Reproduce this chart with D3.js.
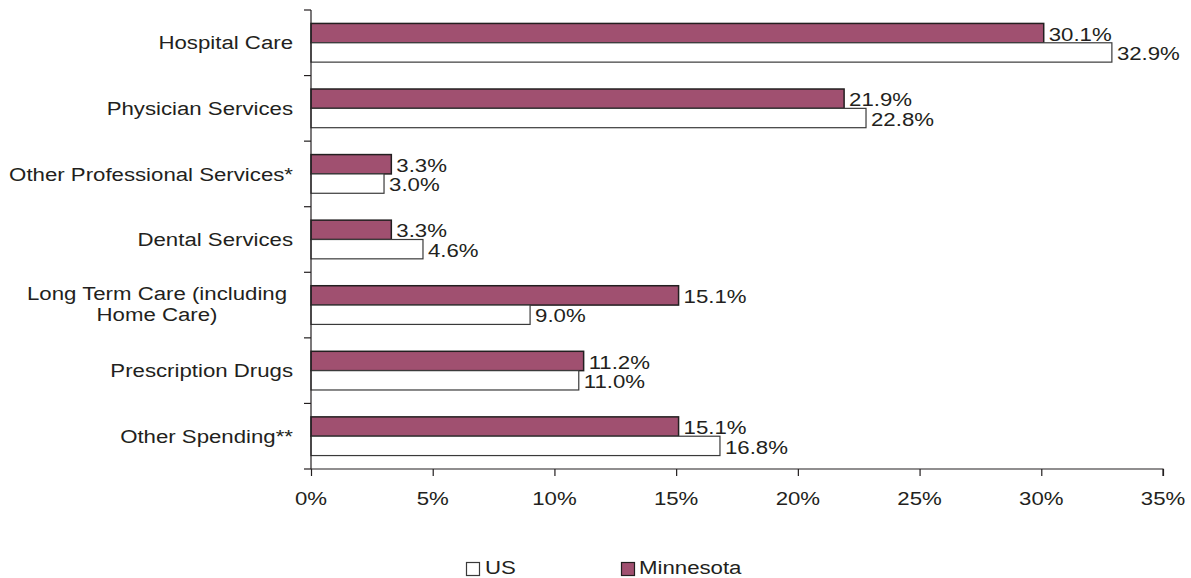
<!DOCTYPE html>
<html>
<head>
<meta charset="utf-8">
<script src="https://cdn.jsdelivr.net/npm/d3@7"></script>
<style>
  body { margin: 0; background: #fff; }
  text { font-family: "Liberation Sans", Arial, sans-serif; fill: #231f20; }
</style>
</head>
<body>
<script>
var categories = [
  ['Hospital Care'],
  ['Physician Services'],
  ['Other Professional Services*'],
  ['Dental Services'],
  ['Long Term Care (including', 'Home Care)'],
  ['Prescription Drugs'],
  ['Other Spending**']
];
var minnesota = [30.1, 21.9, 3.3, 3.3, 15.1, 11.2, 15.1];
var us = [32.9, 22.8, 3.0, 4.6, 9.0, 11.0, 16.8];
var xTicks = [0, 5, 10, 15, 20, 25, 30, 35];
var seriesNames = ['US', 'Minnesota'];

var width = 1191;
var height = 578;
var fontSize = 19;
var stretch = 1.17; // reference text is wider than it is tall

var svg = d3.select('body').append('svg')
  .attr('width', width)
  .attr('height', height);

var x = d3.scaleLinear().domain([0, 35]).range([311, 1163]);
var y = d3.scaleBand()
  .domain(d3.range(categories.length))
  .range([10, 469])
  .paddingInner(0.41)
  .paddingOuter(0.205);

var barH = y.bandwidth() / 2;

// stretched text helper
function label(g, tx, ty, str, anchor) {
  return g.append('text')
    .attr('transform', 'translate(' + tx + ',' + ty + ') scale(' + stretch + ',1)')
    .attr('text-anchor', anchor || 'start')
    .attr('dy', '0.35em')
    .style('font-size', fontSize + 'px')
    .text(str);
}

var barRoot = svg.append('g');

// Minnesota bars (top)
barRoot.selectAll('.mn').data(minnesota).enter().append('rect')
  .attr('class', 'mn')
  .attr('x', x(0))
  .attr('y', function(d, i) { return y(i); })
  .attr('width', function(d) { return x(d) - x(0); })
  .attr('height', barH)
  .attr('fill', '#a05070')
  .attr('stroke', '#231f20')
  .attr('stroke-width', 1.5);

// US bars (bottom)
barRoot.selectAll('.us').data(us).enter().append('rect')
  .attr('class', 'us')
  .attr('x', x(0))
  .attr('y', function(d, i) { return y(i) + barH; })
  .attr('width', function(d) { return x(d) - x(0); })
  .attr('height', barH)
  .attr('fill', '#fff')
  .attr('stroke', '#3a3a3a')
  .attr('stroke-width', 1.2);

var textRoot = svg.append('g');
minnesota.forEach(function(d, i) {
  label(textRoot, x(d) + 5, y(i) + barH / 2 + 1, d.toFixed(1) + '%');
});
us.forEach(function(d, i) {
  label(textRoot, x(d) + 5, y(i) + barH * 1.5 + 1, d.toFixed(1) + '%');
});

// category labels
categories.forEach(function(lines, i) {
  var cy = y(i) + y.bandwidth() / 2;
  if (lines.length === 1) {
    label(textRoot, 293, cy, lines[0], 'end');
  } else {
    label(textRoot, 157, cy - 12, lines[0], 'middle');
    label(textRoot, 157, cy + 9, lines[1], 'middle');
  }
});

// axes
var axisColor = '#231f20';
var xAxis = svg.append('g')
  .attr('transform', 'translate(0,469)')
  .call(d3.axisBottom(x).tickValues(xTicks).tickSize(7).tickFormat(''));
xAxis.select('.domain').attr('d', 'M' + x(0) + ',0H' + x(35) + 'V7');
xAxis.selectAll('line, path').attr('stroke', axisColor).attr('stroke-width', 1.2);
xTicks.forEach(function(t) {
  label(textRoot, x(t), 498, t + '%', 'middle');
});

var yEdges = d3.range(categories.length + 1).map(function(i) { return 10 + i * (459 / categories.length); });
var yAxis = svg.append('g');
yAxis.append('line')
  .attr('x1', x(0)).attr('x2', x(0))
  .attr('y1', 10).attr('y2', 469)
  .attr('stroke', axisColor).attr('stroke-width', 1.2);
yAxis.selectAll('.tk').data(yEdges).enter().append('line')
  .attr('class', 'tk')
  .attr('x1', x(0) - 7).attr('x2', x(0))
  .attr('y1', function(d) { return d; }).attr('y2', function(d) { return d; })
  .attr('stroke', axisColor).attr('stroke-width', 1.2);

// legend
var legend = svg.append('g');
legend.append('rect')
  .attr('x', 466.5).attr('y', 562.5).attr('width', 13).attr('height', 13)
  .attr('fill', '#fff').attr('stroke', '#3a3a3a').attr('stroke-width', 1.2);
label(legend, 485, 567, seriesNames[0]);
legend.append('rect')
  .attr('x', 621.5).attr('y', 562.5).attr('width', 13).attr('height', 13)
  .attr('fill', '#a05070').attr('stroke', '#231f20').attr('stroke-width', 1.2);
label(legend, 639, 567, seriesNames[1]);
</script>
</body>
</html>
